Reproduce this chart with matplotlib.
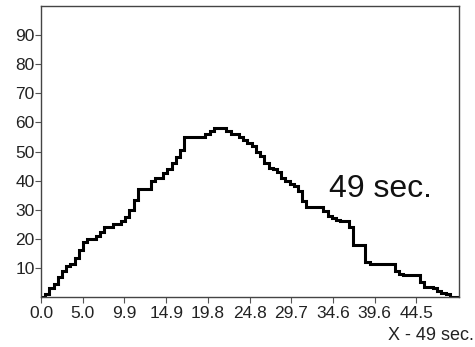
import matplotlib
matplotlib.use("Agg")
import matplotlib.pyplot as plt
import numpy as np

plt.rcParams['font.family'] = ['Liberation Sans', 'DejaVu Sans']

time_s = [i * 0.5 for i in range(100)]
values = [0, 1, 3, 4.5, 7, 9, 10.5, 11.5, 13.5, 16,
          19, 20, 20, 21, 22.5, 24, 24, 25, 25, 26,
          27.5, 30, 33.5, 37, 37, 37, 40, 41, 41, 42.5,
          44, 46, 48, 50.5, 55, 55, 55, 55, 55, 56,
          57, 58, 58, 58, 57, 56, 56, 55, 54, 53,
          52, 50, 48.5, 46, 44.5, 44, 43, 41, 40, 39,
          38, 36.5, 33, 31, 31, 31, 31, 29.5, 28, 27,
          26.5, 26, 26, 24, 18, 18, 18, 12, 11.5, 11.5,
          11.5, 11.5, 11.5, 11.5, 9, 8, 7.5, 7.5, 7.5, 7.5,
          5, 3.5, 3.5, 3, 2, 1.5, 1, 0, 0, 0]
x_ticks = [i * 4.95 for i in range(10)]
x_tick_labels = ["0.0", "5.0", "9.9", "14.9", "19.8", "24.8", "29.7", "34.6", "39.6", "44.5"]
y_ticks = [10, 20, 30, 40, 50, 60, 70, 80, 90]
annotation = "49 sec."
x_label = "X - 49 sec."

fig = plt.figure(figsize=(4.75, 3.47), dpi=100)
ax = fig.add_axes([41/475, 50/347, 418/475, 291/347])

xs = list(time_s) + [49.6]
ys = list(values) + [values[-1]]
ax.step(xs, ys, where='post', color='black', linewidth=2.2, solid_joinstyle='miter')

ax.set_xlim(0, 49.6)
ax.set_ylim(0, 100)
ax.set_xticks(x_ticks)
ax.set_xticklabels(x_tick_labels)
ax.set_yticks(y_ticks)
ax.tick_params(axis='both', direction='out', length=4, width=0.8, color='#555555',
               labelsize=12.5, labelcolor='#222222', pad=0.5)
ax.tick_params(axis='x', pad=2.5)
for s in ax.spines.values():
    s.set_color('#444444')
    s.set_linewidth(1.0)

ax.text(34.2, 34.3, annotation, fontsize=23, color='#111111', va='baseline', ha='left')
fig.text(474/475, 1 - 336/347, x_label, fontsize=13, color='#222222', ha='right', va='center')

fig.savefig("out.png", dpi=100)
